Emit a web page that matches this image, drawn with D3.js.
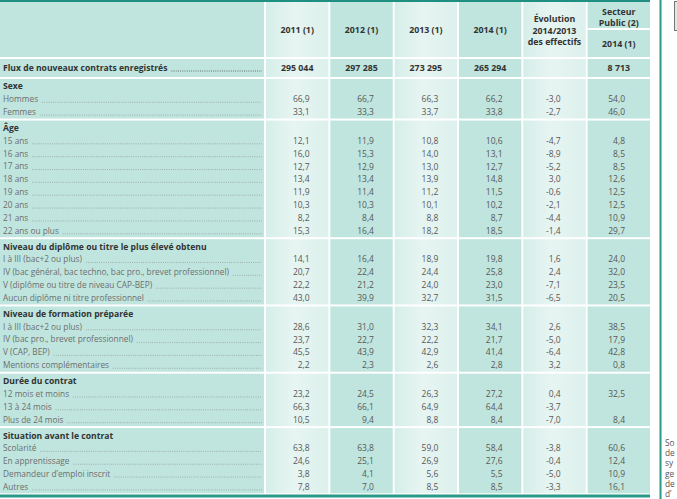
<!DOCTYPE html>
<html><head><meta charset="utf-8">
<script src="https://cdn.jsdelivr.net/npm/d3@7"></script>
<style>html,body{margin:0;padding:0;background:#fff;overflow:hidden}</style>
</head><body>
<script>
// ---------- DATA ----------
const columnHeaders = ["2011 (1)", "2012 (1)", "2013 (1)", "2014 (1)"];
const evolutionHeader = ["Évolution", "2014/2013", "des effectifs"];
const publicHeader = ["Secteur", "Public (2)"];
const publicSubHeader = "2014 (1)";
const fluxLabel = "Flux de nouveaux contrats enregistrés";
const fluxYears = [295044, 297285, 273295, 265294];
const fluxPublic = 8713;

const sectionTitles = ["Sexe", "Âge", "Niveau du diplôme ou titre le plus élevé obtenu",
  "Niveau de formation préparée", "Durée du contrat", "Situation avant le contrat"];
const sectionSizes = [2, 8, 4, 4, 3, 4];
const rowLabels = ["Hommes", "Femmes",
  "15 ans", "16 ans", "17 ans", "18 ans", "19 ans", "20 ans", "21 ans", "22 ans ou plus",
  "I à III (bac+2 ou plus)", "IV (bac général, bac techno, bac pro., brevet professionnel)",
  "V (diplôme ou titre de niveau CAP-BEP)", "Aucun diplôme ni titre professionnel",
  "I à III (bac+2 ou plus)", "IV (bac pro., brevet professionnel)", "V (CAP, BEP)", "Mentions complémentaires",
  "12 mois et moins", "13 à 24 mois", "Plus de 24 mois",
  "Scolarité", "En apprentissage", "Demandeur d’emploi inscrit", "Autres"];
const v2011 = [66.9,33.1, 12.1,16.0,12.7,13.4,11.9,10.3,8.2,15.3, 14.1,20.7,22.2,43.0, 28.6,23.7,45.5,2.2, 23.2,66.3,10.5, 63.8,24.6,3.8,7.8];
const v2012 = [66.7,33.3, 11.9,15.3,12.9,13.4,11.4,10.3,8.4,16.4, 16.4,22.4,21.2,39.9, 31.0,22.7,43.9,2.3, 24.5,66.1,9.4, 63.8,25.1,4.1,7.0];
const v2013 = [66.3,33.7, 10.8,14.0,13.0,13.9,11.2,10.1,8.8,18.2, 18.9,24.4,24.0,32.7, 32.3,22.2,42.9,2.6, 26.3,64.9,8.8, 59.0,26.9,5.6,8.5];
const v2014 = [66.2,33.8, 10.6,13.1,12.7,14.8,11.5,10.2,8.7,18.5, 19.8,25.8,23.0,31.5, 34.1,21.7,41.4,2.8, 27.2,64.4,8.4, 58.4,27.6,5.5,8.5];
const evolution = [-3.0,-2.7, -4.7,-8.9,-5.2,3.0,-0.6,-2.1,-4.4,-1.4, 1.6,2.4,-7.1,-6.5, 2.6,-5.0,-6.4,3.2, 0.4,-3.7,-7.0, -3.8,-0.4,-5.0,-3.3];
const publicSector = [54.0,46.0, 4.8,8.5,8.5,12.6,12.5,12.5,10.9,29.7, 24.0,32.0,23.5,20.5, 38.5,17.9,42.8,0.8, 32.5,null,8.4, 60.6,12.4,10.9,16.1];
const sideNote = ["So", "de", "sy", "ge", "de", "d’"];

// ---------- SETUP ----------
const W = 677, H = 499;
const DARK = "#bfe5de", TEAL = "#1e8f80";
const FONT = "'Open Sans', 'Noto Sans', sans-serif";
const fr = d3.formatLocale({decimal: ",", thousands: "\u00a0", grouping: [3], currency: ["", ""], minus: "-"});
const f1 = fr.format(".1f"), fInt = fr.format(",d");

const svg = d3.select("body").append("svg").attr("width", W).attr("height", H)
  .style("font-family", FONT);
const defs = svg.append("defs");
const lg = defs.append("linearGradient").attr("id", "lightCol").attr("x1", 0).attr("x2", 1).attr("y1", 0).attr("y2", 0);
lg.append("stop").attr("offset", 0).attr("stop-color", "#d5eee9");
lg.append("stop").attr("offset", 0.45).attr("stop-color", "#e7f5f2");
lg.append("stop").attr("offset", 1).attr("stop-color", "#dcf0ec");

const cols = ["y2011", "y2012", "y2013", "y2014", "evol", "pub"];
const colValues = {y2011: v2011, y2012: v2012, y2013: v2013, y2014: v2014, evol: evolution, pub: publicSector};
const colFill = {y2011: "url(#lightCol)", y2012: DARK, y2013: "url(#lightCol)", y2014: DARK, evol: "url(#lightCol)", pub: DARK};
const colAnchor = {y2011: 0.7, y2012: 0.7, y2013: 0.7, y2014: 0.7, evol: 0.6, pub: 0.6};
const x = d3.scaleBand().domain(cols).range([266, 650]).paddingInner(0.03);
const labelW = 264;

// vertical layout
const rowH = 12.85, gap = 2;
const headerTop = 2, headerBot = 57, fluxTop = 59, fluxBot = 77;
const blocks = [];
let yCur = fluxBot + gap, idx = 0;
sectionTitles.forEach((t, s) => {
  const n = sectionSizes[s];
  const h = (n + 1) * rowH + 1;
  blocks.push({title: t, top: yCur, bottom: yCur + h, rows: d3.range(idx, idx + n)});
  yCur += h + gap; idx += n;
});
const rowY = (b, i) => b.top + rowH * (i + 0.5) + 1;

function drawBand(y0, y1) {
  svg.append("rect").attr("x", 0).attr("y", y0).attr("width", labelW).attr("height", y1 - y0).attr("fill", DARK);
  cols.forEach(c => {
    svg.append("rect").attr("x", x(c)).attr("y", y0).attr("width", x.bandwidth()).attr("height", y1 - y0).attr("fill", colFill[c]);
  });
}

function leader(textSel, yBase, bold) {
  const w = textSel.node().getComputedTextLength();
  const x0 = 3 + w + 4, x1 = 262;
  if (x1 > x0) svg.append("line").attr("x1", x0).attr("x2", x1).attr("y1", yBase).attr("y2", yBase)
    .attr("stroke", bold ? "#444" : "#888").attr("stroke-width", bold ? 0.9 : 0.7).attr("stroke-dasharray", "0.8,1.4");
}

// header
drawBand(headerTop, headerBot);
svg.append("line").attr("x1", x("pub")).attr("x2", x("pub") + x.bandwidth()).attr("y1", 29).attr("y2", 29).attr("stroke", "#fff").attr("stroke-width", 2);
const hdrStyle = s => s.attr("font-size", 8.8).attr("font-weight", 700).attr("fill", "#333").attr("text-anchor", "middle");
columnHeaders.forEach((t, i) => {
  svg.append("text").attr("x", x(cols[i]) + x.bandwidth() / 2).attr("y", 30).attr("dy", "0.35em").text(t).call(hdrStyle);
});
evolutionHeader.forEach((t, i) => {
  svg.append("text").attr("x", x("evol") + x.bandwidth() / 2).attr("y", 19 + i * 11.5).attr("dy", "0.35em").text(t).call(hdrStyle);
});
publicHeader.forEach((t, i) => {
  svg.append("text").attr("x", x("pub") + x.bandwidth() / 2).attr("y", 12 + i * 11).attr("dy", "0.35em").text(t).call(hdrStyle);
});
svg.append("text").attr("x", x("pub") + x.bandwidth() / 2).attr("y", 44).attr("dy", "0.35em").text(publicSubHeader).call(hdrStyle);

// flux row
drawBand(fluxTop, fluxBot);
const fy = (fluxTop + fluxBot) / 2;
const fl = svg.append("text").attr("x", 3).attr("y", fy).attr("dy", "0.35em").attr("font-size", 8.6).attr("font-weight", 700).attr("fill", "#333").text(fluxLabel);
leader(fl, fy + 3, true);
fluxYears.forEach((v, i) => {
  svg.append("text").attr("x", x(cols[i]) + x.bandwidth() / 2).attr("y", fy).attr("dy", "0.35em").call(hdrStyle).text(fInt(v));
});
svg.append("text").attr("x", x("pub") + x.bandwidth() / 2).attr("y", fy).attr("dy", "0.35em").call(hdrStyle).text(fInt(fluxPublic));

// sections
blocks.forEach(b => {
  drawBand(b.top, b.bottom);
  svg.append("text").attr("x", 3).attr("y", rowY(b, 0)).attr("dy", "0.35em")
    .attr("font-size", 8.6).attr("font-weight", 700).attr("fill", "#333").text(b.title);
  b.rows.forEach((r, i) => {
    const yy = rowY(b, i + 1);
    const t = svg.append("text").attr("x", 3).attr("y", yy).attr("dy", "0.35em")
      .attr("font-size", 8.3).attr("fill", "#6e6e6e").text(rowLabels[r]);
    leader(t, yy + 3, false);
    cols.forEach(c => {
      const v = colValues[c][r];
      if (v === null || v === undefined) return;
      svg.append("text").attr("x", x(c) + x.bandwidth() * colAnchor[c]).attr("y", yy).attr("dy", "0.35em")
        .attr("text-anchor", "end").attr("font-size", 8.5).attr("fill", "#585858").text(f1(v));
    });
  });
});

// frame lines
svg.append("rect").attr("x", 0).attr("y", 0).attr("width", 650).attr("height", 2).attr("fill", TEAL);
svg.append("rect").attr("x", 0).attr("y", 494.5).attr("width", 650).attr("height", 3).attr("fill", "#2a9a88");
svg.append("rect").attr("x", 659.5).attr("y", 0).attr("width", 2).attr("height", H).attr("fill", "#2a9a88");
svg.append("rect").attr("x", 674.5).attr("y", 1.5).attr("width", 20).attr("height", 29).attr("fill", "#e6e6e6").attr("stroke", "#777");
sideNote.forEach((t, i) => {
  svg.append("text").attr("x", 665).attr("y", 443 + i * 10.2).attr("dy", "0.35em")
    .attr("font-size", 8.3).attr("fill", "#555").text(t);
});
</script>
</body></html>
